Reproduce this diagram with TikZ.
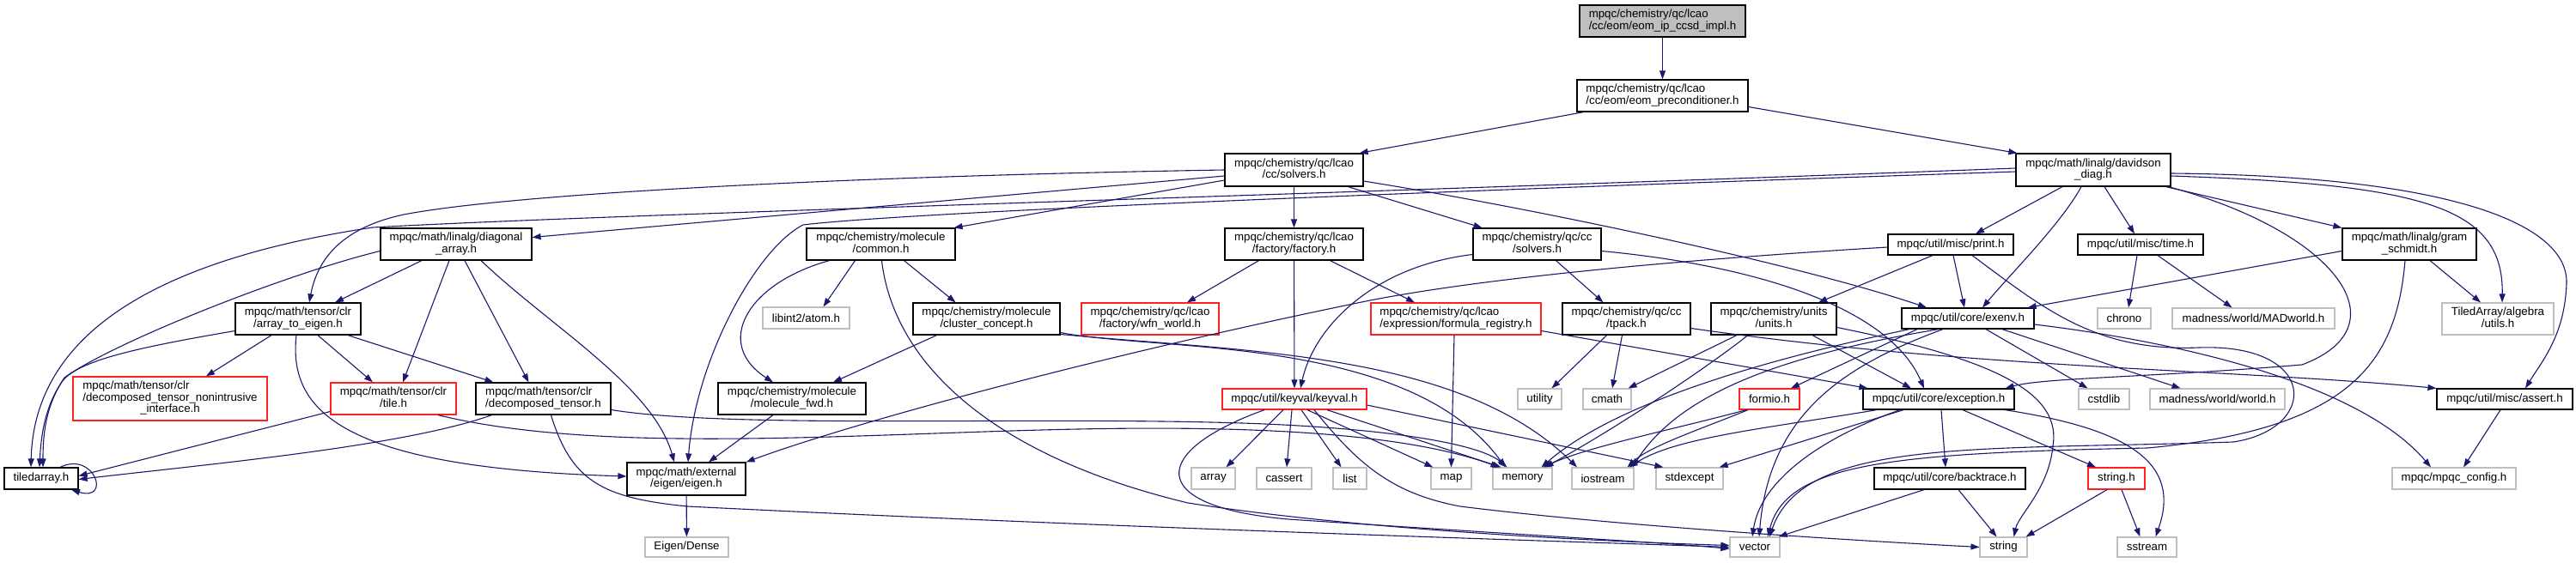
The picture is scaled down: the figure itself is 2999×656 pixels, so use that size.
\documentclass[tikz,border=0pt]{standalone}
\usepackage{fontspec}
\setmainfont{Liberation Sans}
\usetikzlibrary{arrows.meta}
\definecolor{edgec}{HTML}{191970}
\definecolor{grayb}{HTML}{BFBFBF}
\definecolor{redb}{HTML}{FF2020}
\newcommand\twoL[2]{\begin{tabular}{@{}l@{}}#1\\\multicolumn{1}{@{}c@{}}{#2}\end{tabular}}
\newcommand\threeL[3]{\begin{tabular}{@{}l@{}}#1\\#2\\\multicolumn{1}{@{}c@{}}{#3}\end{tabular}}
\tikzset{
  nbase/.style={rectangle,inner sep=0pt,line width=1.2pt,fill=white,text=black,font=\fontsize{13.3}{13}\selectfont},
  nblack/.style={nbase,draw=black},
  nred/.style={nbase,draw=redb},
  ngray/.style={nbase,draw=grayb},
  sz/.style 2 args={minimum width=#1pt,minimum height=#2pt},
  conn/.style={draw=edgec,line width=1.1pt,-{Triangle[length=10pt,width=7pt]}}
}
\begin{document}
\begin{tikzpicture}[x=1pt,y=-1pt]
\fill[white] (0,0) rectangle (2999,656);
\useasboundingbox (0,0) rectangle (2999,656);
% ---------- nodes ----------
\node[nblack,sz={193}{37},fill=grayb] (impl) at (1935.5,24.5) {\twoL{mpqc/chemistry/qc/lcao}{/cc/eom/eom\_ip\_ccsd\_impl.h}};
\node[nblack,sz={199}{37}] (precond) at (1935.5,111.5) {\twoL{mpqc/chemistry/qc/lcao}{/cc/eom/eom\_preconditioner.h}};
\node[nblack,sz={161}{38}] (lsolv) at (1506.5,198) {\twoL{mpqc/chemistry/qc/lcao}{/cc/solvers.h}};
\node[nblack,sz={180}{38}] (david) at (2437,198) {\twoL{mpqc/math/linalg/davidson}{\_diag.h}};
\node[nblack,sz={176}{37}] (diag) at (531,284.5) {\twoL{mpqc/math/linalg/diagonal}{\_array.h}};
\node[nblack,sz={173}{37}] (common) at (1025.5,284.5) {\twoL{mpqc/chemistry/molecule}{/common.h}};
\node[nblack,sz={161}{37}] (factory) at (1506.5,284.5) {\twoL{mpqc/chemistry/qc/lcao}{/factory/factory.h}};
\node[nblack,sz={149}{37}] (csolv) at (1789.5,284.5) {\twoL{mpqc/chemistry/qc/cc}{/solvers.h}};
\node[nblack,sz={146}{24}] (print) at (2271,285) {mpqc/util/misc/print.h};
\node[nblack,sz={146}{24}] (time) at (2492,285) {mpqc/util/misc/time.h};
\node[nblack,sz={156}{37}] (gram) at (2805,284.5) {\twoL{mpqc/math/linalg/gram}{\_schmidt.h}};
\node[nblack,sz={146}{37}] (a2e) at (347,371.5) {\twoL{mpqc/math/tensor/clr}{/array\_to\_eigen.h}};
\node[ngray,sz={101}{25}] (atom) at (938.5,370.5) {libint2/atom.h};
\node[nblack,sz={171}{37}] (cluster) at (1148.5,371.5) {\twoL{mpqc/chemistry/molecule}{/cluster\_concept.h}};
\node[nred,sz={160}{37}] (wfn) at (1339,371.5) {\twoL{mpqc/chemistry/qc/lcao}{/factory/wfn\_world.h}};
\node[nred,sz={198}{37}] (formula) at (1695,371.5) {\twoL{mpqc/chemistry/qc/lcao}{/expression/formula\_registry.h}};
\node[nblack,sz={149}{37}] (tpack) at (1893.5,371.5) {\twoL{mpqc/chemistry/qc/cc}{/tpack.h}};
\node[nblack,sz={146}{37}] (units) at (2065,371.5) {\twoL{mpqc/chemistry/units}{/units.h}};
\node[nblack,sz={154}{24}] (exenv) at (2291,371) {mpqc/util/core/exenv.h};
\node[ngray,sz={62}{24}] (chrono) at (2473,371) {chrono};
\node[ngray,sz={189}{24}] (madw) at (2623.5,371) {madness/world/MADworld.h};
\node[ngray,sz={130}{37}] (tautils) at (2908,371.5) {\twoL{TiledArray/algebra}{/utils.h}};
\node[nred,sz={226}{51}] (nonint) at (198,464.5) {\threeL{mpqc/math/tensor/clr}{/decomposed\_tensor\_nonintrusive}{\_interface.h}};
\node[nred,sz={146}{37}] (tile) at (458,464.5) {\twoL{mpqc/math/tensor/clr}{/tile.h}};
\node[nblack,sz={157}{37}] (dect) at (632.5,464.5) {\twoL{mpqc/math/tensor/clr}{/decomposed\_tensor.h}};
\node[nblack,sz={172}{37}] (molfwd) at (922,464.5) {\twoL{mpqc/chemistry/molecule}{/molecule\_fwd.h}};
\node[nred,sz={168}{24}] (keyval) at (1507,465) {mpqc/util/keyval/keyval.h};
\node[ngray,sz={51}{24}] (utility) at (1792.5,465) {utility};
\node[ngray,sz={56}{24}] (cmath) at (1871,465) {cmath};
\node[nred,sz={70}{24}] (formio) at (2060,465) {formio.h};
\node[nblack,sz={176}{24}] (exception) at (2257,465) {mpqc/util/core/exception.h};
\node[ngray,sz={59}{24}] (cstdlib) at (2449.5,465) {cstdlib};
\node[ngray,sz={157}{24}] (world) at (2581.5,465) {madness/world/world.h};
\node[nblack,sz={158}{24}] (assert) at (2916,465) {mpqc/util/misc/assert.h};
\node[nblack,sz={86}{25}] (tiledarray) at (48,557.5) {tiledarray.h};
\node[nblack,sz={138}{38}] (eigen) at (799,558) {\twoL{mpqc/math/external}{/eigen/eigen.h}};
\node[ngray,sz={51}{25}] (array) at (1412.5,557.5) {array};
\node[ngray,sz={64}{25}] (cassert) at (1495,557.5) {cassert};
\node[ngray,sz={39}{25}] (list) at (1571.5,557.5) {list};
\node[ngray,sz={47}{25}] (map) at (1689.5,557.5) {map};
\node[ngray,sz={69}{25}] (memory) at (1772.5,557.5) {memory};
\node[ngray,sz={72}{25}] (iostream) at (1866,557.5) {iostream};
\node[ngray,sz={78}{25}] (stdexcept) at (1967,557.5) {stdexcept};
\node[nblack,sz={176}{25}] (backtrace) at (2270,557.5) {mpqc/util/core/backtrace.h};
\node[nred,sz={66}{25}] (stringh) at (2464,557.5) {string.h};
\node[ngray,sz={144}{25}] (config) at (2857,557.5) {mpqc/mpqc\_config.h};
\node[ngray,sz={97}{23}] (dense) at (799.5,637.5) {Eigen/Dense};
\node[ngray,sz={58}{23}] (vector) at (2043,637.5) {vector};
\node[ngray,sz={55}{23}] (string) at (2332.5,637.5) {string};
\node[ngray,sz={69}{23}] (sstream) at (2499.5,637.5) {sstream};
% ---------- edges ----------
\draw[conn] (impl) -- (precond);
\draw[conn] ([xshift=-92pt]precond.south) -- ([xshift=-5pt]lsolv.north east);
\draw[conn] ([yshift=-13pt]precond.east) -- ([xshift=2pt]david.north west);
% lcao/cc/solvers.h
\draw[conn] ([yshift=-12pt]lsolv.west) -- ([xshift=-2pt]common.north east);
\draw[conn] (lsolv) -- (factory);
\draw[conn] ([xshift=63pt]lsolv.south) -- ([xshift=-64pt]csolv.north);
\draw[conn] ([yshift=-7pt]lsolv.west) -- ([yshift=8pt]diag.east);
\draw[conn] (lsolv.west) .. controls (1000,205) and (600,225) .. (470,250) .. controls (400,265) and (370,300) .. ([xshift=13pt]a2e.north);
\draw[conn] ([yshift=-13pt]lsolv.east) .. controls (1800,245) and (2100,310) .. ([xshift=-48pt]exenv.north);
% davidson_diag.h
\draw[conn] ([xshift=-36pt]david.south) -- ([xshift=29pt]print.north);
\draw[conn] ([xshift=-14pt]david.south) .. controls (2400,260) and (2340,320) .. ([xshift=17pt]exenv.north);
\draw[conn] ([xshift=13pt]david.south) -- ([xshift=-7pt]time.north);
\draw[conn] ([xshift=-6pt]david.south east) -- (gram.north west);
\draw[conn] ([xshift=-3pt]david.south east) .. controls (2720,270) and (2800,380) .. (2680,425) .. controls (2500,440) and (2380,440) .. ([xshift=-11pt]exception.north east);
\draw[conn] ([yshift=-7pt]david.east) .. controls (2820,215) and (2915,240) .. ([xshift=5pt]tautils.north);
\draw[conn] ([yshift=-4pt]david.east) .. controls (2850,205) and (2990,260) .. (2988,330) .. controls (2986,390) and (2960,420) .. ([xshift=24pt]assert.north);
\draw[conn] ([yshift=2pt]david.west) .. controls (1500,228) and (700,250) .. (434,265) .. controls (200,300) and (40,380) .. ([xshift=-12pt]tiledarray.north);
\draw[conn] ([yshift=-2pt]david.west) .. controls (1600,225) and (1050,248) .. (935,262) .. controls (880,290) and (810,420) .. ([xshift=2pt]eigen.north);
% print.h
\draw[conn] ([xshift=-21pt]print.south) -- ([xshift=52pt]units.north);
\draw[conn] ([xshift=3pt]print.south) -- ([xshift=-4pt]exenv.north);
\draw[conn] ([yshift=-3pt]print.west) .. controls (2000,300) and (1750,320) .. (1595,350) .. controls (1300,410) and (1000,490) .. (eigen.north east);
\draw[conn] ([xshift=25pt]print.south) .. controls (2380,360) and (2440,410) .. (2560,405) .. controls (2700,400) and (2700,500) .. (2600,515) .. controls (2300,525) and (2100,510) .. ([xshift=17pt]vector.north);
% time.h
\draw[conn] ([xshift=-4pt]time.south) -- ([xshift=5pt]chrono.north);
\draw[conn] ([xshift=20pt]time.south) -- ([xshift=-25pt]madw.north);
% gram_schmidt.h
\draw[conn] ([yshift=-8pt]gram.west) -- ([xshift=-8pt]exenv.north east);
\draw[conn] ([xshift=24pt]gram.south) -- ([xshift=-20pt]tautils.north);
\draw[conn] ([xshift=-5pt]gram.south) .. controls (2790,420) and (2740,500) .. (2500,522) .. controls (2200,528) and (2080,540) .. ([xshift=15pt]vector.north);
% units.h
\draw[conn] ([xshift=-43pt]units.south) -- ([xshift=-4pt]cmath.north east);
\draw[conn] ([xshift=-30pt]units.south) .. controls (1985,430) and (1880,500) .. ([xshift=26pt]memory.north);
\draw[conn] ([xshift=45pt]units.south) -- ([xshift=-32pt]exception.north);
\draw[conn] ([yshift=-10pt]units.east) .. controls (2330,420) and (2400,460) .. (2390,520) .. controls (2385,570) and (2350,600) .. ([xshift=12pt]string.north);
% exenv.h
\draw[conn] ([xshift=-59pt]exenv.south) -- ([xshift=25pt]formio.north);
\draw[conn] ([xshift=21pt]exenv.south) -- ([xshift=-19pt]cstdlib.north);
\draw[conn] ([xshift=40pt]exenv.south) -- ([xshift=-43pt]world.north);
\draw[conn] ([yshift=-7pt]exenv.east) .. controls (2550,400) and (2750,450) .. ([xshift=-27pt]config.north);
\draw[conn] ([xshift=-34pt]exenv.south) .. controls (2100,410) and (1960,450) .. ([xshift=-2pt]iostream.north east);
\draw[conn] ([xshift=-29pt]exenv.south) .. controls (2150,425) and (2060,480) .. ([xshift=5pt]vector.north);
\draw[conn] ([xshift=-68pt]exenv.south) .. controls (2050,420) and (1880,470) .. ([xshift=22pt]memory.north);
% exception.h
\draw[conn] ([xshift=3pt]exception.south) -- ([xshift=-5pt]backtrace.north);
\draw[conn] ([xshift=28pt]exception.south) -- ([xshift=-24pt]stringh.north);
\draw[conn] ([xshift=77pt]exception.south) .. controls (2480,500) and (2540,540) .. ([xshift=10pt]sstream.north);
\draw[conn] ([xshift=-41pt]exception.south) -- ([xshift=-5pt]stdexcept.north east);
\draw[conn] ([xshift=-45pt]exception.south) .. controls (2120,510) and (2050,560) .. ([xshift=-3pt]vector.north);
\draw[conn] ([xshift=-72pt]exception.south) .. controls (2050,500) and (1950,510) .. ([xshift=-6pt]iostream.north east);
% formio.h
\draw[conn] ([xshift=-25pt]formio.south) .. controls (1980,500) and (1920,520) .. ([xshift=-8pt]iostream.north east);
\draw[conn] ([xshift=-27pt]formio.south) .. controls (1950,500) and (1850,520) .. ([xshift=24pt]memory.north);
% backtrace, string.h, assert
\draw[conn] ([xshift=-30pt]backtrace.south) -- ([xshift=-2pt]vector.north east);
\draw[conn] ([xshift=10pt]backtrace.south) -- ([xshift=-8pt]string.north);
\draw[conn] ([xshift=-11pt]stringh.south) -- ([xshift=-2pt]string.north east);
\draw[conn] ([xshift=6pt]stringh.south) -- ([xshift=-8pt]sstream.north);
\draw[conn] ([xshift=-5pt]assert.south) -- ([xshift=11pt]config.north);
% formula_registry.h
\draw[conn] ([xshift=-2pt]formula.south) -- (map.north);
\draw[conn] ([yshift=-14pt]formula.east) -- ([xshift=6pt]exception.north west);
% qc/cc/solvers.h, tpack.h
\draw[conn] ([yshift=-12pt]csolv.west) .. controls (1600,310) and (1530,380) .. ([xshift=7pt]keyval.north);
\draw[conn] ([xshift=22pt]csolv.south) -- ([xshift=-27pt]tpack.north);
\draw[conn] ([yshift=-8pt]csolv.east) .. controls (2050,310) and (2200,360) .. ([xshift=-17pt]exception.north);
\draw[conn] ([xshift=-23pt]tpack.south) -- ([xshift=14pt]utility.north);
\draw[conn] ([xshift=-5pt]tpack.south) -- ([xshift=6pt]cmath.north);
\draw[conn] ([yshift=-11pt]tpack.east) .. controls (2300,430) and (2600,430) .. (assert.north west);
% factory.h
\draw[conn] ([xshift=-41pt]factory.south) -- ([xshift=43pt]wfn.north);
\draw[conn] (factory) -- (keyval);
\draw[conn] ([xshift=42pt]factory.south) -- ([xshift=-48pt]formula.north);
% molecule/common.h, cluster_concept.h, molecule_fwd.h
\draw[conn] ([xshift=-30pt]common.south) -- ([xshift=20pt]atom.north);
\draw[conn] ([xshift=-60pt]common.south) .. controls (870,330) and (830,400) .. ([xshift=-22pt]molfwd.north);
\draw[conn] ([xshift=1pt]common.south) .. controls (1040,420) and (1150,530) .. (1383,586) .. controls (1600,620) and (1900,632) .. ([yshift=2pt]vector.west);
\draw[conn] ([xshift=27pt]common.south) -- ([xshift=-36pt]cluster.north);
\draw[conn] ([xshift=-58pt]cluster.south) -- ([xshift=48pt]molfwd.north);
\draw[conn] ([yshift=-16pt]cluster.east) .. controls (1350,410) and (1640,390) .. ([xshift=-20pt]memory.north);
\draw[conn] ([yshift=-18pt]cluster.east) .. controls (1450,410) and (1700,410) .. ([xshift=-30pt]iostream.north);
\draw[conn] ([xshift=-22pt]molfwd.south) -- ([xshift=26pt]eigen.north);
% diagonal_array.h
\draw[conn] ([xshift=-40pt]diag.south) -- ([xshift=43pt]a2e.north);
\draw[conn] ([xshift=-8pt]diag.south) -- ([xshift=11pt]tile.north);
\draw[conn] ([xshift=10pt]diag.south) -- ([xshift=-17pt]dect.north);
\draw[conn] ([xshift=29pt]diag.south) .. controls (640,380) and (760,450) .. ([xshift=-14pt]eigen.north);
\draw[conn] ([yshift=-8pt]diag.west) .. controls (330,320) and (130,400) .. (75,440) .. controls (55,470) and (50,500) .. ([xshift=2pt]tiledarray.north);
% array_to_eigen.h
\draw[conn] ([xshift=-31pt]a2e.south) -- ([xshift=42pt]nonint.north);
\draw[conn] ([xshift=23pt]a2e.south) -- ([xshift=-24pt]tile.north);
\draw[conn] ([xshift=58pt]a2e.south) -- ([xshift=-58pt]dect.north);
\draw[conn] ([xshift=-2pt]a2e.south) .. controls (335,480) and (400,545) .. ([yshift=3pt]eigen.west);
\draw[conn] ([yshift=-14pt]a2e.west) .. controls (160,405) and (90,420) .. (72,445) .. controls (55,470) and (48,500) .. ([xshift=-2pt]tiledarray.north);
% tile.h, decomposed_tensor.h
\draw[conn] ([yshift=-15pt]tile.west) -- ([yshift=3pt]tiledarray.east);
\draw[conn] ([xshift=52pt]tile.south) .. controls (700,530) and (1000,505) .. (1255,500) .. controls (1500,495) and (1650,510) .. ([xshift=-27pt]memory.north);
\draw[conn] ([xshift=-60pt]dect.south) .. controls (470,520) and (250,540) .. ([yshift=-1pt]tiledarray.east);
\draw[conn] ([xshift=9pt]dect.south) .. controls (665,560) and (700,580) .. (800,590) .. controls (1300,615) and (1800,630) .. (vector.west);
\draw[conn] ([yshift=-13pt]dect.east) .. controls (850,500) and (1200,485) .. (1446,493) .. controls (1600,498) and (1720,515) .. ([xshift=-18pt]memory.north);
% eigen.h
\draw[conn] (eigen) -- (dense);
% keyval.h
\draw[conn] ([xshift=-13pt]keyval.south) -- ([xshift=15pt]array.north);
\draw[conn] ([xshift=-3pt]keyval.south) -- ([xshift=3pt]cassert.north);
\draw[conn] ([xshift=8pt]keyval.south) -- ([xshift=-10pt]list.north);
\draw[conn] ([xshift=15pt]keyval.south) -- ([xshift=3pt]map.north west);
\draw[conn] ([xshift=23pt]keyval.south) .. controls (1580,540) and (1620,575) .. (1700,590) .. controls (1900,615) and (2200,632) .. (string.west);
\draw[conn] ([xshift=38pt]keyval.south) -- ([xshift=-25pt]memory.north);
\draw[conn] ([yshift=-7pt]keyval.east) -- ([xshift=9pt]stdexcept.north west);
\draw[conn] ([xshift=-35pt]keyval.south) .. controls (1340,525) and (1330,590) .. (1500,605) .. controls (1800,625) and (1950,633) .. ([yshift=-2pt]vector.west);
% tiledarray.h self loop
\draw[conn] ([xshift=22pt]tiledarray.north) .. controls (110,525) and (130,585) .. ([xshift=35pt]tiledarray.south);
\end{tikzpicture}
\end{document}
